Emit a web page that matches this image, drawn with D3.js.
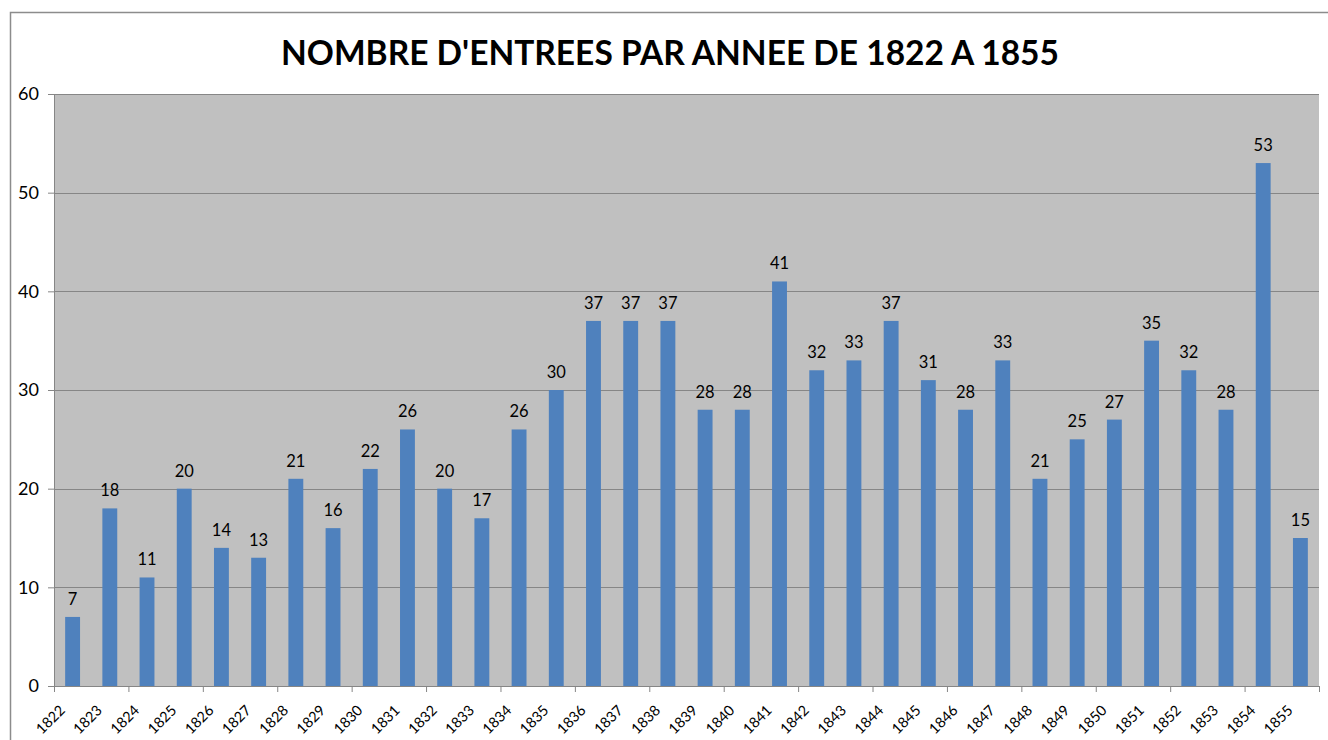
<!DOCTYPE html>
<html>
<head>
<meta charset="utf-8">
<script src="https://cdn.jsdelivr.net/npm/d3@7"></script>
<style>
  body { margin: 0; background: #fff; }
  svg { display: block; font-family: Lato, "Open Sans", sans-serif; }
</style>
</head>
<body>
<svg id="chart" width="1328" height="740"></svg>
<script>
// chart data
const title = "NOMBRE D'ENTREES PAR ANNEE DE 1822 A 1855";
const years = d3.range(1822, 1856).map(String);
const entries = [7, 18, 11, 20, 14, 13, 21, 16, 22, 26, 20, 17, 26, 30, 37, 37, 37,
                 28, 28, 41, 32, 33, 37, 31, 28, 33, 21, 25, 27, 35, 32, 28, 53, 15];
const yTickValues = [0, 10, 20, 30, 40, 50, 60];

const svg = d3.select('#chart');
const margin = { top: 94, bottom: 54, left: 54, right: 9 };
const width = +svg.attr('width');
const height = +svg.attr('height');
const innerWidth = width - margin.left - margin.right;
const innerHeight = height - margin.top - margin.bottom;

// outer chart frame: only its top and left edges are in view
svg.append('path')
    .attr('d', `M${width},12.5H10.5V${height}`)
    .attr('fill', 'none')
    .attr('stroke', '#8c8c8c')
    .attr('stroke-width', 1.5);

svg.append('text')
    .attr('x', 670)
    .attr('y', 65)
    .attr('text-anchor', 'middle')
    .attr('font-size', 33.5)
    .attr('font-weight', 'bold')
    .attr('fill', '#000')
    .text(title);

const g = svg.append('g')
    .attr('transform', `translate(${margin.left}, ${margin.top})`);

// scales
const xScale = d3.scaleBand()
    .domain(years)
    .range([0, innerWidth])
    .paddingInner(0.6)
    .paddingOuter(0.3);
const slotScale = d3.scaleLinear()
    .domain([0, years.length])
    .range([0, innerWidth]);
const yScale = d3.scaleLinear()
    .domain([0, 60])
    .range([innerHeight, 0]);

// plot background
g.append('rect')
    .attr('width', innerWidth)
    .attr('height', innerHeight)
    .attr('fill', '#c0c0c0');

// gridlines
g.append('g')
    .selectAll('line')
    .data(yTickValues.slice(1))
    .enter()
    .append('line')
    .attr('x1', 0)
    .attr('x2', innerWidth)
    .attr('y1', d => Math.round(yScale(d)) + 0.5)
    .attr('y2', d => Math.round(yScale(d)) + 0.5)
    .attr('stroke', '#868686');

// bars
g.selectAll('rect.bar')
    .data(entries)
    .enter()
    .append('rect')
    .attr('class', 'bar')
    .attr('x', (d, i) => xScale(years[i]))
    .attr('y', d => yScale(d))
    .attr('width', xScale.bandwidth())
    .attr('height', d => innerHeight - yScale(d))
    .attr('fill', '#4f81bd');

// data labels
g.selectAll('text.value')
    .data(entries)
    .enter()
    .append('text')
    .attr('class', 'value')
    .attr('x', (d, i) => xScale(years[i]) + xScale.bandwidth() / 2)
    .attr('y', d => yScale(d) - 12)
    .attr('text-anchor', 'middle')
    .attr('font-size', 16.5)
    .attr('fill', '#000')
    .text(d => d);

// y axis
const yAxis = d3.axisLeft(yScale)
    .tickValues(yTickValues)
    .tickSizeInner(6)
    .tickSizeOuter(0)
    .tickPadding(9);
const yAxisG = g.append('g').call(yAxis);
yAxisG.select('.domain').attr('stroke', '#868686');
yAxisG.selectAll('.tick line').attr('stroke', '#868686');
yAxisG.selectAll('.tick text')
    .attr('font-size', 18)
    .attr('font-family', 'Lato, "Open Sans", sans-serif')
    .attr('fill', '#000');

// x axis: tick marks every second category boundary
const xAxis = d3.axisBottom(slotScale)
    .tickValues(d3.range(0, years.length + 1, 2))
    .tickSizeInner(6)
    .tickSizeOuter(0)
    .tickFormat('');
const xAxisG = g.append('g')
    .attr('transform', `translate(0, ${innerHeight})`)
    .call(xAxis);
xAxisG.select('.domain').attr('stroke', '#868686');
xAxisG.selectAll('.tick line').attr('stroke', '#868686');

// rotated category labels
const yearX = d => xScale(d) + xScale.bandwidth() / 2 - 14;
const yearY = innerHeight + 18;
g.selectAll('text.year')
    .data(years)
    .enter()
    .append('text')
    .attr('class', 'year')
    .attr('x', yearX)
    .attr('y', yearY)
    .attr('transform', d => `rotate(-45, ${yearX(d)}, ${yearY})`)
    .attr('text-anchor', 'end')
    .attr('dy', '0.71em')
    .attr('font-size', 14.5)
    .attr('fill', '#000')
    .text(d => d);
</script>
</body>
</html>
